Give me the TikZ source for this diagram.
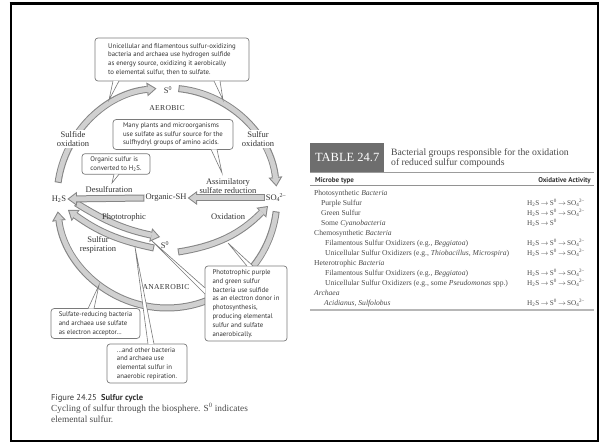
\documentclass[tikz,border=0pt]{standalone}
\usepackage{fontspec}
\setmainfont{Liberation Serif}
\setsansfont{PT Sans}
\usetikzlibrary{arrows.meta,calc}
\definecolor{bandline}{HTML}{858585}
\definecolor{bandfill}{HTML}{D0D0D0}
\definecolor{txt}{HTML}{333333}
\definecolor{boxline}{HTML}{7A7A7A}
\definecolor{hdr}{HTML}{6E6E6E}
\definecolor{tbl}{HTML}{4A4A4A}
\newcommand\hts{H\textsubscript{2}S}
\newcommand\szero{S\textsuperscript{0}}
\newcommand\sfour{SO\textsubscript{4}\kern-0.05em\textsuperscript{2--}}
\newcommand\fullox{\hts\,$\to$\,\szero\,$\to$\,\sfour}
\newcommand\band[1]{\draw[bandO] #1; \draw[bandI] #1;}
\begin{document}
\begin{tikzpicture}[x=1pt,y=1pt,
 bandO/.style={draw=bandline, line width=7pt, -{Triangle[width=14pt,length=9.5pt,line width=0pt]}},
 bandI/.style={draw=bandfill, line width=5pt, shorten <=1pt, shorten >=1.7pt, -{Triangle[width=10pt,length=6.8pt,line width=0pt]}},
 lbl/.style={font=\fontsize{8.5}{9}\selectfont, text=txt, inner sep=1pt, align=center},
 lblw/.style={lbl, fill=white},
 caps/.style={font=\fontsize{7.6}{9}\selectfont\addfontfeature{LetterSpace=4}, text=txt, inner sep=1pt},
 callout/.style={draw=boxline, line width=0.7pt, rounded corners=3pt, fill=white, font=\sffamily\fontsize{6.8}{8.8}\selectfont, text=txt, align=left, inner sep=3pt},
 tailst/.style={draw=boxline, line width=0.6pt, fill=white},
 trow/.style={anchor=base west, font=\fontsize{7.6}{8}\selectfont, text=tbl, inner sep=0pt},
 tform/.style={trow, font=\fontsize{7.2}{8}\selectfont},
]
\useasboundingbox (0,0) rectangle (600,445);
\draw[line width=2pt] (10.5,4) rectangle (597.5,441);
\draw[line width=3pt] (9.5,441.5) -- (598.5,441.5);

% ---- cycle ----
\coordinate (C) at (167,247);
\node[lbl] (H2S) at (59,246) {\hts};
\node[lbl] (OSH) at (166,247) {Organic-SH};
\node[lbl] (SO4) at (276,247) {\sfour};
\node[lbl] (S0t) at (168,355) {\szero};
\node[lbl] (S0b) at (165,200) {\szero};

\coordinate (ph1) at (76,242);  \coordinate (ph2) at (160,208);
\coordinate (rs1) at (154,197); \coordinate (rs2) at (68,235);
\coordinate (ox1) at (178,193); \coordinate (ox2) at (268,239);

\band{(C) ++(172:110) arc[start angle=172,end angle=95.5,radius=110]}
\band{(C) ++(84:110) arc[start angle=84,end angle=6,radius=110]}
\band{(C) ++(-7:110) arc[start angle=-7,end angle=-173,radius=110]}
\band{(ph1) to[bend right=10] (ph2)}
\band{(rs1) to[bend left=12] (rs2)}
\band{(ox1) to[bend right=18] (ox2)}
\band{(SO4.west) -- (OSH.east)}
\band{(OSH.west) -- (H2S.east)}

\node[lblw] (sulox) at (73,306) {Sulfide\\oxidation};
\node[lblw] (sfox) at (258,306) {Sulfur\\oxidation};
\node[caps] (aer) at (167,337) {AEROBIC};
\node[lbl] (desulf) at (109,255) {Desulfuration};
\node[lbl] (assim) at (228,259) {Assimilatory\\sulfate reduction};
\node[lbl] (photo) at (124,228) {Phototrophic};
\node[lbl] (oxid) at (228,228) {Oxidation};
\node[lbl] (sresp) at (98,200) {Sulfur\\respiration};
\node[caps] (anaer) at (166,158) {ANAEROBIC};

% ---- callouts ----
\node[callout, minimum width=154pt, minimum height=43pt] (T) at (172,385.5)
 {Unicellular and filamentous sulfur-oxidizing\\bacteria and archaea use hydrogen sulfide\\as energy source, oxidizing it aerobically\\to elemental sulfur, then to sulfate.};
\coordinate (tT1) at (109,345); \coordinate (tT2) at (223,345);
\filldraw[tailst] ($(T.south)+(-59,0.4)$) -- (tT1) -- ($(T.south)+(-53,0.4)$);
\filldraw[tailst] ($(T.south)+(42,0.4)$) -- (tT2) -- ($(T.south)+(48,0.4)$);

\node[callout, minimum width=120pt, minimum height=25pt] (M) at (173,310.5)
 {Many plants and microorganisms\\use sulfate as sulfur source for the\\sulfhydryl groups of amino acids.};
\coordinate (tM) at (222,272);
\filldraw[tailst] ($(M.south)+(38,0.4)$) -- (tM) -- ($(M.south)+(44,0.4)$);

\node[callout, minimum width=68pt, minimum height=18pt] (O) at (116,281)
 {Organic sulfur is\\converted to H\textsubscript{2}S.};
\coordinate (tO) at (112,262);
\filldraw[tailst] ($(O.south)+(-2,0.4)$) -- (tO) -- ($(O.south)+(3,0.4)$);

\node[callout, minimum width=82pt, minimum height=75pt] (P) at (246,141.5)
 {Phototrophic purple\\and green sulfur\\bacteria use sulfide\\as an electron donor in\\photosynthesis,\\producing elemental\\sulfur and sulfate\\anaerobically.};
\coordinate (tP1) at (228,202); \coordinate (tP2) at (151,205);
\filldraw[tailst] ($(P.north)+(1,-0.4)$) -- (tP1) -- ($(P.north)+(7,-0.4)$);
\filldraw[tailst] ($(P.west)+(0.4,15.5)$) -- (tP2) -- ($(P.west)+(0.4,9.5)$);

\node[callout, minimum width=89pt, minimum height=29pt] (SR) at (95.5,121.5)
 {Sulfate-reducing bacteria\\and archaea use sulfate\\as electron acceptor\ldots};
\coordinate (tSR) at (99,160);
\filldraw[tailst] ($(SR.north)+(-7.5,-0.4)$) -- (tSR) -- ($(SR.north)+(-1.5,-0.4)$);

\node[callout, minimum width=80pt, minimum height=39pt] (OB) at (147,81.5)
 {\ldots and other bacteria\\and archaea use\\elemental sulfur in\\anaerobic repiration.};
\coordinate (tOB) at (135,198);
\filldraw[tailst] ($(OB.north)+(1,-0.4)$) -- (tOB) -- ($(OB.north)+(7,-0.4)$);

% ---- caption ----
\node[anchor=base west, inner sep=0pt, font=\sffamily\fontsize{8.5}{9}\selectfont, text=txt] (fig) at (51,44.5)
 {Figure 24.25\enspace\textbf{Sulfur cycle}};
\node[anchor=base west, inner sep=0pt, font=\fontsize{9.3}{10}\selectfont, text=tbl] (cap1) at (51,34)
 {Cycling of sulfur through the biosphere. \szero{} indicates};
\node[anchor=base west, inner sep=0pt, font=\fontsize{9.3}{10}\selectfont, text=tbl] (cap2) at (51,22.5)
 {elemental sulfur.};

% ---- table ----
\node[fill=hdr, minimum width=74pt, minimum height=29pt, anchor=south west, inner sep=0pt,
      font=\fontsize{12.5}{13}\selectfont, text=white] (hdrbox) at (310,273) {TABLE 24.7};
\node[anchor=base west, inner sep=0pt, font=\fontsize{9.7}{10}\selectfont, text=tbl] (tt1) at (391,289)
 {Bacterial groups responsible for the oxidation};
\node[anchor=base west, inner sep=0pt, font=\fontsize{9.7}{10}\selectfont, text=tbl] (tt2) at (391,279)
 {of reduced sulfur compounds};
\draw[line width=1.3pt, tbl!55] (310,272.5) -- (594,272.5);
\draw[line width=0.5pt, tbl!60] (310,259.5) -- (594,259.5);
\draw[line width=1.3pt, tbl!40] (310,135) -- (594,135);
\node[trow, font=\sffamily\bfseries\fontsize{7}{8}\selectfont, text=txt] (h1) at (315,262) {Microbe type};
\node[trow, anchor=base east, font=\sffamily\bfseries\fontsize{7}{8}\selectfont, text=txt] (h2) at (591,262) {Oxidative Activity};

\node[trow] (r1) at (314,249.5) {Photosynthetic \textit{Bacteria}};
\node[trow] (r2) at (321,239.7) {Purple Sulfur};
\node[tform] (f2) at (527,239.7) {\fullox};
\node[trow] (r3) at (321,229.8) {Green Sulfur};
\node[tform] (f3) at (527,229.8) {\fullox};
\node[trow] (r4) at (321,219.5) {Some \textit{Cyanobacteria}};
\node[tform] (f4) at (527,219.5) {\hts\,$\to$\,\szero};
\node[trow] (r5) at (314,209.4) {Chemosynthetic \textit{Bacteria}};
\node[trow] (r6) at (325,199.7) {Filamentous Sulfur Oxidizers (e.g., \textit{Beggiatoa})};
\node[tform] (f6) at (527,199.7) {\fullox};
\node[trow] (r7) at (325,189.8) {Unicellular Sulfur Oxidizers (e.g., \textit{Thiobacillus, Microspira})};
\node[tform] (f7) at (527,189.8) {\fullox};
\node[trow] (r8) at (314,179.7) {Heterotrophic \textit{Bacteria}};
\node[trow] (r9) at (325,169.4) {Filamentous Sulfur Oxidizers (e.g., \textit{Beggiatoa})};
\node[tform] (f9) at (527,169.4) {\fullox};
\node[trow] (r10) at (325,159.4) {Unicellular Sulfur Oxidizers (e.g., some \textit{Pseudomonas} spp.)};
\node[tform] (f10) at (527,159.4) {\fullox};
\node[trow] (r11) at (314,149.7) {\textit{Archaea}};
\node[trow] (r12) at (324,139.8) {\textit{Acidianus, Sulfolobus}};
\node[tform] (f12) at (527,139.8) {\fullox};
\end{tikzpicture}
\end{document}
